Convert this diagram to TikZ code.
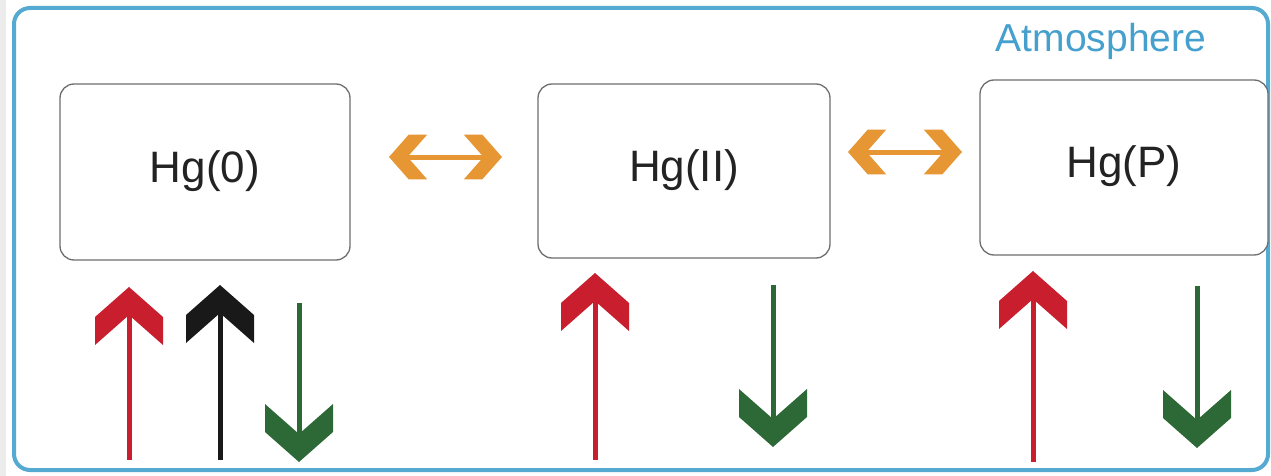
\documentclass[tikz,border=0pt]{standalone}
\usepackage{fontspec}
\setmainfont{Liberation Sans}
\definecolor{hgred}{RGB}{200,30,45}
\definecolor{hgblack}{RGB}{25,25,25}
\definecolor{hggreen}{RGB}{45,105,55}
\definecolor{hgorange}{RGB}{230,150,50}
\definecolor{frameblue}{RGB}{85,170,210}
\definecolor{atmblue}{RGB}{70,160,205}
\definecolor{boxgray}{RGB}{110,110,110}
\definecolor{txtgray}{RGB}{35,35,35}
\begin{document}
\begin{tikzpicture}[x=1pt,y=-1pt,
  box/.style={draw=boxgray, line width=1.3pt, rounded corners=14pt, fill=white,
    font=\fontsize{44}{48}\selectfont, text=txtgray, text height=32pt, text depth=12pt, inner sep=0pt},
  shaft/.style={line width=5pt},
  chev/.pic={\fill (0,0) -- (34,30) -- (34,58) -- (0,28) -- (-34,58) -- (-34,30) -- cycle;}
]
\useasboundingbox (0,0) rectangle (1271,476);
\fill[white] (0,0) rectangle (1271,476);
\fill[gray!15] (0,0) rectangle (6,476);
\draw[frameblue, line width=4pt, rounded corners=16pt] (14,8) rectangle (1268,470);

\node[box, minimum width=290pt, minimum height=176pt] (hg0) at (205,172) {Hg(0)};
\node[box, minimum width=292pt, minimum height=174pt] (hg2) at (684,171) {Hg(II)};
\node[box, minimum width=288pt, minimum height=175pt] (hgp) at (1124,167.5) {Hg(P)};
\node[text=atmblue, font=\fontsize{39}{42}\selectfont, anchor=base, inner sep=0pt] (atm) at (1101,52) {Atmosphere};

% orange double arrows
\coordinate (o1l) at (389,157); \coordinate (o1r) at (502,157);
\coordinate (o2l) at (848,152); \coordinate (o2r) at (962,152);
\draw[hgorange, shaft] ([xshift=16pt]o1l) -- ([xshift=-16pt]o1r);
\pic[hgorange, rotate=90, scale=0.66] at (o1l) {chev};
\pic[hgorange, rotate=-90, scale=0.66] at (o1r) {chev};
\draw[hgorange, shaft] ([xshift=16pt]o2l) -- ([xshift=-16pt]o2r);
\pic[hgorange, rotate=90, scale=0.66] at (o2l) {chev};
\pic[hgorange, rotate=-90, scale=0.66] at (o2r) {chev};

% Hg(0) arrows
\coordinate (r0b) at (129,460); \coordinate (r0t) at (129,287);
\coordinate (k0b) at (220,460); \coordinate (k0t) at (220,285);
\coordinate (g0t) at (299,303); \coordinate (g0b) at (299,462);
\draw[hgred, shaft] (r0b) -- ([yshift=-26pt]r0t);
\pic[hgred] at (r0t) {chev};
\draw[hgblack, shaft] (k0b) -- ([yshift=-26pt]k0t);
\pic[hgblack] at (k0t) {chev};
\draw[hggreen, shaft] (g0t) -- ([yshift=26pt]g0b);
\pic[hggreen, rotate=180] at (g0b) {chev};

% Hg(II) arrows
\coordinate (r2b) at (595,460); \coordinate (r2t) at (595,273);
\coordinate (g2t) at (773,285); \coordinate (g2b) at (773,447);
\draw[hgred, shaft] (r2b) -- ([yshift=-26pt]r2t);
\pic[hgred] at (r2t) {chev};
\draw[hggreen, shaft] (g2t) -- ([yshift=26pt]g2b);
\pic[hggreen, rotate=180] at (g2b) {chev};

% Hg(P) arrows
\coordinate (rpb) at (1033,462); \coordinate (rpt) at (1033,271);
\coordinate (gpt) at (1197,286); \coordinate (gpb) at (1197,448);
\draw[hgred, shaft] (rpb) -- ([yshift=-26pt]rpt);
\pic[hgred] at (rpt) {chev};
\draw[hggreen, shaft] (gpt) -- ([yshift=26pt]gpb);
\pic[hggreen, rotate=180] at (gpb) {chev};
\end{tikzpicture}
\end{document}
